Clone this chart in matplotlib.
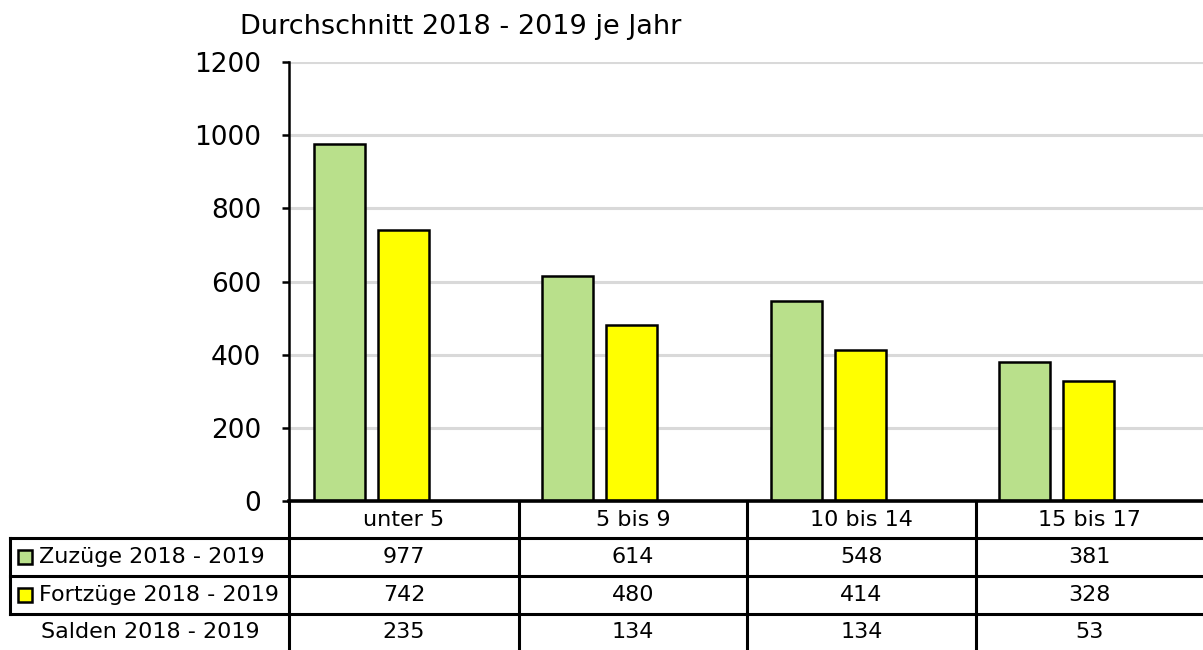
import numpy as np
import matplotlib
matplotlib.use("Agg")
import matplotlib.pyplot as plt

plt.rcParams['font.family'] = ['DejaVu Sans']

# data
categories = ["unter 5", "5 bis 9", "10 bis 14", "15 bis 17"]
zuzuege = [977, 614, 548, 381]
fortzuege = [742, 480, 414, 328]
salden = [235, 134, 134, 53]
row_labels = ["Zuzüge 2018 - 2019", "Fortzüge 2018 - 2019", "Salden 2018 - 2019"]
title = "Durchschnitt 2018 - 2019 je Jahr"
yticks = [0, 200, 400, 600, 800, 1000, 1200]

GREEN = "#b9e08b"
YELLOW = "#ffff00"
W, H = 1203, 650

fig = plt.figure(figsize=(W / 100, H / 100), dpi=100)

# main plot area (pixel box: x 289..1203, y 62..501)
ax = fig.add_axes([289 / W, 1 - 501 / H, (W - 289) / W, (501 - 62) / H])
x = np.arange(len(categories))
bw = 0.222
off = 64 / 228.5
ax.bar(x - off, zuzuege, bw, color=GREEN, edgecolor="black", linewidth=1.8, zorder=3)
ax.bar(x, fortzuege, bw, color=YELLOW, edgecolor="black", linewidth=1.8, zorder=3)

ax.set_xlim(-0.5, len(categories) - 0.5)
ax.set_ylim(0, 1200)
ax.set_yticks(yticks)
ax.set_yticklabels([str(v) for v in yticks], fontsize=19)
ax.set_xticks([])
ax.yaxis.grid(True, color="#d9d9d9", linewidth=2.2, zorder=0)
ax.set_axisbelow(True)
for s in ["top", "right", "bottom"]:
    ax.spines[s].set_visible(False)
ax.spines["left"].set_linewidth(1.8)
ax.tick_params(axis="y", length=5, width=1.8, pad=15)
fig.text(240 / W, 1 - 27 / H, title, fontsize=19.5, va="center", ha="left")

# table overlay in pixel coordinates
tb = fig.add_axes([0, 0, 1, 1])
tb.set_xlim(0, W)
tb.set_ylim(H, 0)
tb.axis("off")

col_edges = [289, 519, 747, 976, W]
row_edges = [501, 538, 576, 614, H]
lw = 2.2
tb.plot([289, W], [501, 501], color="black", lw=2.6)
for yy in row_edges[1:4]:
    tb.plot([10, W], [yy, yy], color="black", lw=lw)
for xx in col_edges[:-1]:
    tb.plot([xx, xx], [501, H], color="black", lw=lw)
tb.plot([10, 10], [538, 614], color="black", lw=lw)

fs = 16
for i, cat in enumerate(categories):
    cx = (col_edges[i] + col_edges[i + 1]) / 2
    tb.text(cx, (row_edges[0] + row_edges[1]) / 2, cat, ha="center", va="center", fontsize=fs)
    for r, series in enumerate([zuzuege, fortzuege, salden]):
        cy = (row_edges[r + 1] + row_edges[r + 2]) / 2
        tb.text(cx, cy, str(series[i]), ha="center", va="center", fontsize=fs)

for r, (lab, col) in enumerate(zip(row_labels, [GREEN, YELLOW, None])):
    cy = (row_edges[r + 1] + row_edges[r + 2]) / 2
    if col is not None:
        tb.add_patch(plt.Rectangle((18, cy - 7), 14, 14, facecolor=col, edgecolor="black", lw=1.8))
        tb.text(39, cy, lab, ha="left", va="center", fontsize=fs)
    else:
        tb.text(150, cy, lab, ha="center", va="center", fontsize=fs)

fig.savefig("out.png", dpi=100)
